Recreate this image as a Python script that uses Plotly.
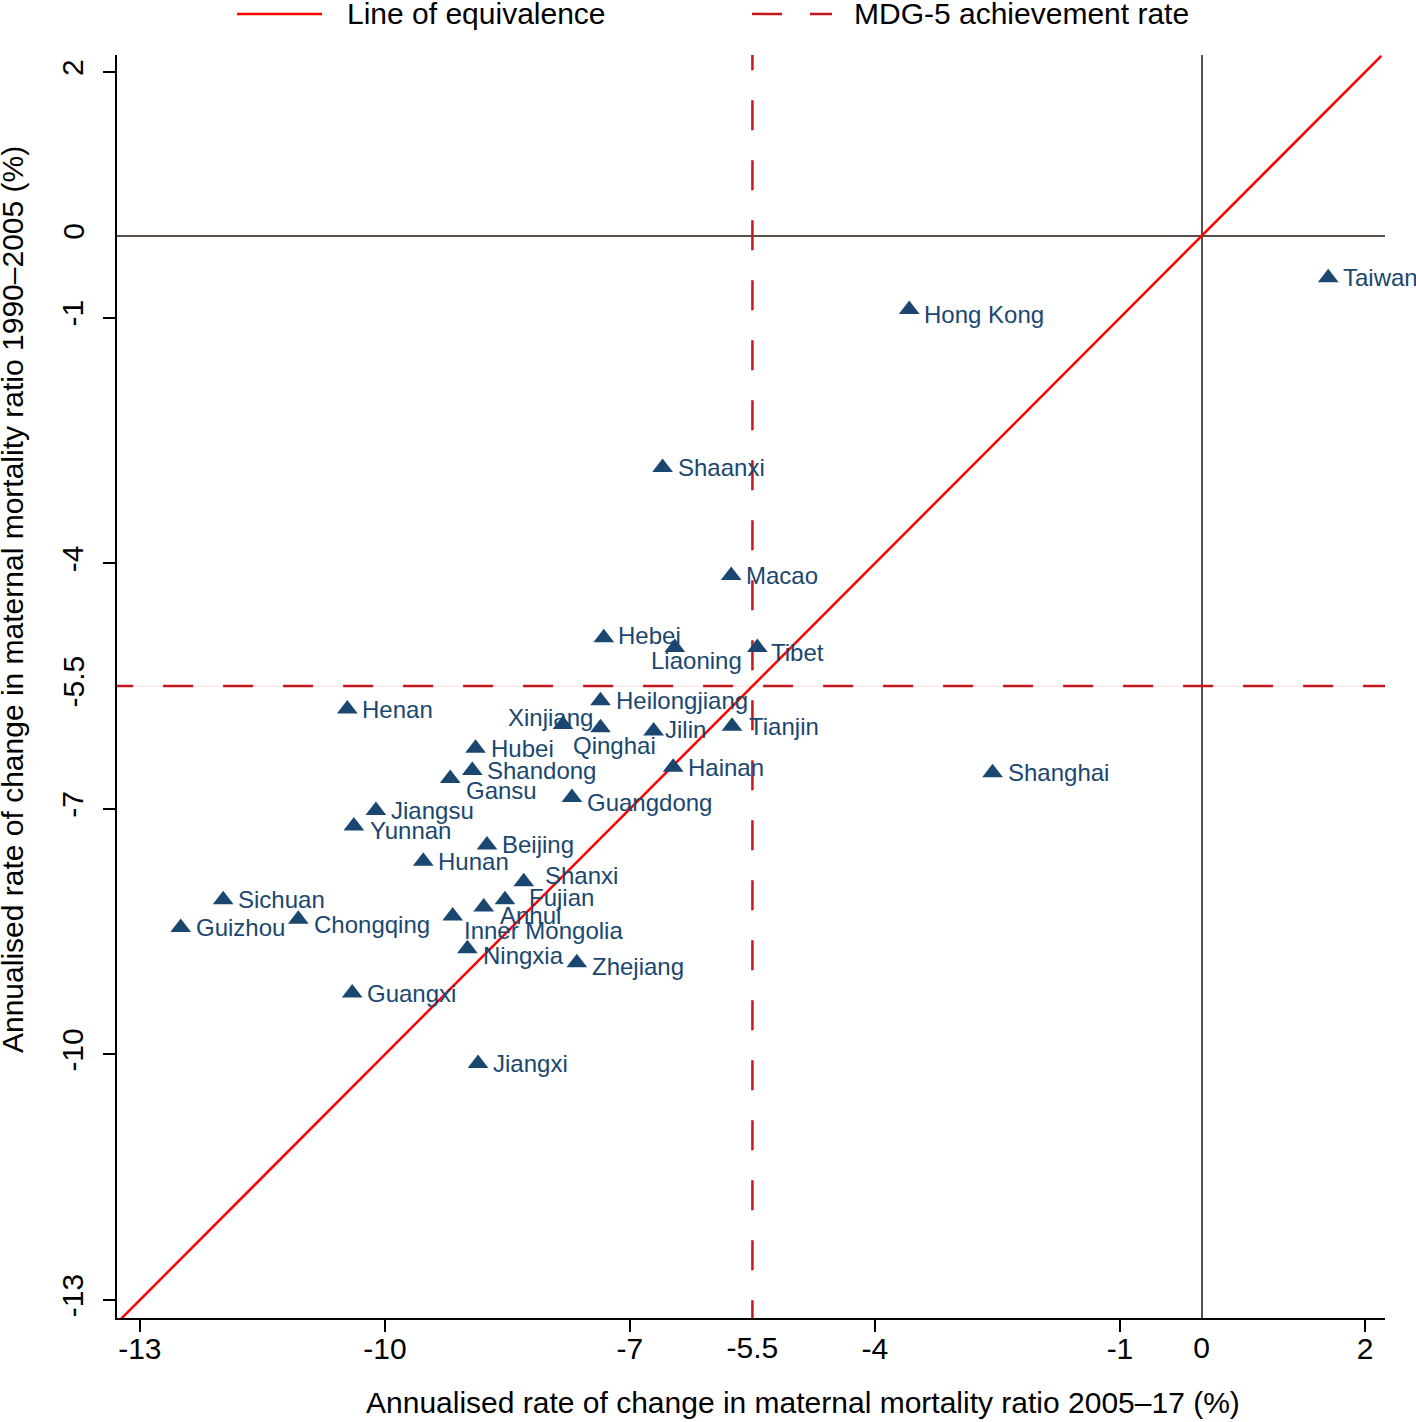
import plotly.graph_objects as go

# ---------------- data ----------------
PROVINCES = ["Taiwan", "Hong Kong", "Shaanxi", "Macao", "Hebei", "Liaoning", "Tibet",
             "Heilongjiang", "Henan", "Xinjiang", "Qinghai", "Jilin", "Tianjin", "Hubei",
             "Hainan", "Shandong", "Shanghai", "Gansu", "Guangdong", "Jiangsu", "Yunnan",
             "Beijing", "Hunan", "Shanxi", "Sichuan", "Fujian", "Anhui", "Inner Mongolia",
             "Chongqing", "Guizhou", "Ningxia", "Zhejiang", "Guangxi", "Jiangxi"]
ARC_2005_17 = [1.55, -3.58, -6.60, -5.76, -7.32, -6.45, -5.44,
               -7.36, -10.46, -7.82, -7.36, -6.71, -5.75, -8.89,
               -6.47, -8.93, -2.56, -9.20, -7.71, -10.11, -10.38,
               -8.75, -9.53, -8.30, -11.98, -8.53, -8.79, -9.17,
               -11.06, -12.50, -8.99, -7.65, -10.40, -8.86]
ARC_1990_2005 = [-0.51, -0.90, -2.83, -4.15, -4.91, -5.03, -5.03,
                 -5.68, -5.78, -5.97, -6.01, -6.05, -5.99, -6.26,
                 -6.49, -6.53, -6.56, -6.63, -6.86, -7.02, -7.21,
                 -7.44, -7.64, -7.89, -8.11, -8.11, -8.20, -8.31,
                 -8.35, -8.45, -8.71, -8.88, -9.25, -10.11]
MDG5_RATE = -5.5
TICKS_MAIN = [-13, -10, -7, -4, -1, 2]
TICKS_EXTRA = [-5.5, 0]
X_TITLE = "Annualised rate of change in maternal mortality ratio 2005–17 (%)"
Y_TITLE = "Annualised rate of change in maternal mortality ratio 1990–2005 (%)"
LEGEND_LABELS = ["Line of equivalence", "MDG-5 achievement rate"]

X_RANGE = [-13.28, 2.245]
Y_RANGE = [-13.22, 2.21]

# ---------------- style ----------------
NAVY = "#1a476f"
RED = "#ff0000"
DARKRED = "#c4161c"
ZERO = "#5a5049"
AXIS_FONT = "Liberation Sans, Arial, sans-serif"
LABEL_FONT = "Liberation Sans, Arial, sans-serif"

# label placement: (xanchor, xshift, yshift) ; default right of marker
LABEL_POS = {
    "Hong Kong": ("left", 13, -5), "Liaoning": ("center", 22, -13), "Tibet": ("left", 12, -5),
    "Xinjiang": ("center", -12, 7), "Qinghai": ("center", 14, -18), "Gansu": ("left", 14, -12),
    "Guangdong": ("left", 13, -5), "Yunnan": ("left", 14, -4), "Shanxi": ("left", 19, 6),
    "Fujian": ("left", 22, 2), "Anhui": ("left", 14, -8), "Inner Mongolia": ("left", 9, -14),
    "Chongqing": ("left", 14, -5), "Ningxia": ("left", 14, -7), "Zhejiang": ("left", 13, -4),
    "Jilin": ("left", 9, 2), "Hebei": ("left", 12, 2), "Tianjin": ("left", 15, 0),
}

fig = go.Figure()

# faint line under the horizontal MDG line
fig.add_trace(go.Scatter(x=[X_RANGE[0], X_RANGE[1]], y=[MDG5_RATE, MDG5_RATE], mode="lines",
                         line=dict(color="#fbdcdc", width=1), hoverinfo="skip", showlegend=False))
# MDG-5 dashed lines
fig.add_trace(go.Scatter(x=[-13.45, X_RANGE[1]], y=[MDG5_RATE, MDG5_RATE], mode="lines",
                         line=dict(color=DARKRED, width=2.5, dash="30px,30px"),
                         name=LEGEND_LABELS[1], showlegend=False))
fig.add_trace(go.Scatter(x=[MDG5_RATE, MDG5_RATE], y=[2.39, Y_RANGE[0]], mode="lines",
                         line=dict(color=DARKRED, width=2.5, dash="30px,30px"),
                         showlegend=False))
# line of equivalence
fig.add_trace(go.Scatter(x=[X_RANGE[0], 2.2], y=[X_RANGE[0], 2.2], mode="lines",
                         line=dict(color=RED, width=2.5), name=LEGEND_LABELS[0],
                         showlegend=False))
# provinces
fig.add_trace(go.Scatter(x=ARC_2005_17, y=ARC_1990_2005, mode="markers",
                         marker=dict(symbol="triangle-up", size=18, color=NAVY),
                         text=PROVINCES, showlegend=False))

annotations = []
for name, xv, yv in zip(PROVINCES, ARC_2005_17, ARC_1990_2005):
    xa, xs, ys = LABEL_POS.get(name, ("left", 13, 0))
    annotations.append(dict(x=xv, y=yv, xref="x", yref="y", text=name, showarrow=False,
                            xanchor=xa, yanchor="middle", xshift=xs, yshift=ys,
                            font=dict(family=LABEL_FONT, size=24, color=NAVY)))

# legend (manual, top)
LEG_Y = 1.0325
annotations.append(dict(x=0.1798, y=LEG_Y, xref="paper", yref="paper", text=LEGEND_LABELS[0],
                        showarrow=False, xanchor="left", yanchor="middle",
                        font=dict(family=AXIS_FONT, size=30, color="black")))
annotations.append(dict(x=0.5797, y=LEG_Y, xref="paper", yref="paper", text=LEGEND_LABELS[1],
                        showarrow=False, xanchor="left", yanchor="middle",
                        font=dict(family=AXIS_FONT, size=30, color="black")))
# axis titles (placed like the original graph)
annotations.append(dict(x=0.541, y=-0.0673, xref="paper", yref="paper", text=X_TITLE,
                        showarrow=False, xanchor="center", yanchor="middle",
                        font=dict(family=AXIS_FONT, size=30, color="black")))
annotations.append(dict(x=-0.082, y=0.5685, xref="paper", yref="paper", text=Y_TITLE,
                        showarrow=False, xanchor="center", yanchor="middle", textangle=-90,
                        font=dict(family=AXIS_FONT, size=30, color="black")))
shapes = [
    dict(type="line", xref="paper", yref="paper", x0=0.0946, x1=0.1617, y0=LEG_Y, y1=LEG_Y,
         line=dict(color=RED, width=2.5)),
    dict(type="line", xref="paper", yref="paper", x0=0.5008, x1=0.5639, y0=LEG_Y, y1=LEG_Y,
         line=dict(color=DARKRED, width=2.5, dash="30px,28px")),
]

tickfont = dict(family=AXIS_FONT, size=30, color="black")

fig.update_layout(
    width=1416, height=1422, autosize=False,
    margin=dict(l=117, r=31, t=55, b=104, autoexpand=False),
    paper_bgcolor="white", plot_bgcolor="white",
    annotations=annotations, shapes=shapes,
    showlegend=False,
    xaxis=dict(range=X_RANGE, tickvals=TICKS_MAIN, ticktext=[str(v) for v in TICKS_MAIN],
               ticks="outside", ticklen=12, tickwidth=2, tickcolor="black",
               ticklabelstandoff=-9,
               showline=True, linewidth=2, linecolor="black", showgrid=False,
               zeroline=True, zerolinecolor=ZERO, zerolinewidth=2, automargin=False,
               tickfont=tickfont),
    yaxis=dict(range=Y_RANGE, tickvals=TICKS_MAIN, ticktext=[str(v) for v in TICKS_MAIN],
               ticks="outside", ticklen=12, tickwidth=2, tickcolor="black", tickangle=-90,
               ticklabelstandoff=8,
               showline=True, linewidth=2, linecolor="black", showgrid=False,
               zeroline=True, zerolinecolor=ZERO, zerolinewidth=2, automargin=False,
               tickfont=tickfont),
    xaxis2=dict(overlaying="x", matches="x", side="bottom", anchor="y", tickvals=TICKS_EXTRA,
                ticktext=[str(v) for v in TICKS_EXTRA], ticks="outside", ticklen=12,
                ticklabelstandoff=-9,
                tickcolor="rgba(0,0,0,0)", showline=False, showgrid=False, zeroline=False,
                automargin=False, tickfont=tickfont),
    yaxis2=dict(overlaying="y", matches="y", side="left", anchor="x", tickvals=TICKS_EXTRA,
                ticktext=[str(v) for v in TICKS_EXTRA], ticks="outside", ticklen=12,
                ticklabelstandoff=8,
                tickcolor="rgba(0,0,0,0)", tickangle=-90, showline=False, showgrid=False,
                zeroline=False, automargin=False, tickfont=tickfont),
)
# invisible trace to activate the secondary axes
fig.add_trace(go.Scatter(x=[X_RANGE[0]], y=[Y_RANGE[0]], xaxis="x2", yaxis="y2", mode="markers",
                         marker=dict(opacity=0), hoverinfo="skip", showlegend=False))

fig.write_html("out.html", config={"displayModeBar": False},
               post_script="document.body.style.margin='0';document.body.style.overflow='hidden';")
